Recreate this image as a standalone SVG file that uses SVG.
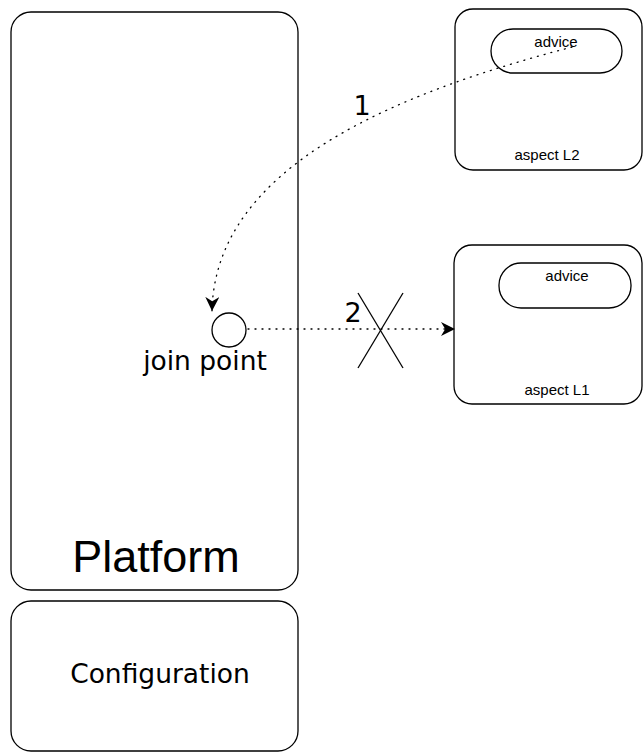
<svg xmlns="http://www.w3.org/2000/svg" width="643" height="753" viewBox="0 0 643 753">
<defs>
<style>
.box{fill:#fff;stroke:#000;stroke-width:1.3}
.sm{font-family:"Liberation Sans",Arial,sans-serif;font-size:15px;text-anchor:middle;fill:#000}
.dj{font-family:"DejaVu Sans",Verdana,sans-serif;text-anchor:middle;fill:#000}
.dot{fill:none;stroke:#000;stroke-width:1.3;stroke-dasharray:1 6;stroke-linecap:round}
</style>
<marker id="ah" viewBox="0 0 10 10" refX="10" refY="5" markerWidth="14" markerHeight="14" markerUnits="userSpaceOnUse" orient="auto">
<path d="M0,0 L10,5 L0,10 L3,5 Z" fill="#000"/>
</marker>
</defs>
<g id="platform">
<rect class="box" x="11" y="12" width="287" height="578" rx="20"/>
<text x="156" y="572" font-family="Liberation Sans,Arial,sans-serif" font-size="45" text-anchor="middle">Platform</text>
</g>
<g id="configuration">
<rect class="box" x="11" y="601" width="287" height="150" rx="20"/>
<text class="dj" x="160" y="683" font-size="26.5">Configuration</text>
</g>
<g id="joinpoint">
<circle cx="229" cy="330" r="17" fill="#fff" stroke="#000" stroke-width="1.3"/>
<text class="dj" x="205" y="370" font-size="26.5">join point</text>
</g>
<g id="aspectL2">
<rect class="box" x="455" y="9" width="187" height="161" rx="18"/>
<rect class="box" x="491" y="29" width="131" height="44" rx="22"/>
<text class="sm" x="556" y="47">advice</text>
<text class="sm" x="547" y="160">aspect L2</text>
</g>
<g id="aspectL1">
<rect class="box" x="454" y="245" width="188" height="159" rx="18"/>
<rect class="box" x="499" y="263" width="132" height="45" rx="22"/>
<text class="sm" x="567" y="281">advice</text>
<text class="sm" x="557" y="395">aspect L1</text>
</g>
<g id="connectors">
<path class="dot" d="M572,47 C400,92 215,165 212,311" marker-end="url(#ah)"/>
<path class="dot" d="M248,329 L455,329" marker-end="url(#ah)"/>
<line x1="358" y1="293" x2="403" y2="368" stroke="#000" stroke-width="1.3"/>
<line x1="403" y1="293" x2="358" y2="368" stroke="#000" stroke-width="1.3"/>
<text class="dj" x="362" y="115" font-size="27">1</text>
<text class="dj" x="353" y="322" font-size="27">2</text>
</g>
</svg>
